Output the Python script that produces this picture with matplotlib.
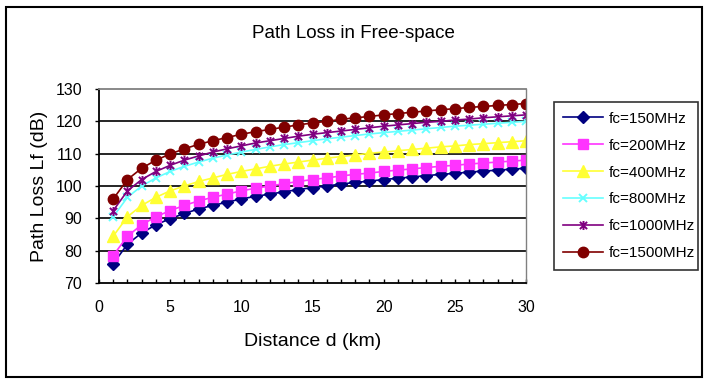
import matplotlib
matplotlib.use("Agg")
import matplotlib.pyplot as plt
from matplotlib.patches import Rectangle
from matplotlib.path import Path
from matplotlib.ticker import MultipleLocator

plt.rcParams['font.family'] = ['Liberation Sans', 'DejaVu Sans']

distance_km = list(range(1, 31))

loss_150 = [76.0, 82.0, 85.5, 88.0, 89.9, 91.5, 92.9, 94.0, 95.0, 96.0,
            96.8, 97.5, 98.2, 98.9, 99.5, 100.0, 100.6, 101.1, 101.5, 102.0,
            102.4, 102.8, 103.2, 103.6, 103.9, 104.3, 104.6, 104.9, 105.2, 105.5]
loss_200 = [78.5, 84.5, 88.0, 90.5, 92.4, 94.0, 95.4, 96.5, 97.5, 98.5,
            99.3, 100.0, 100.7, 101.4, 102.0, 102.5, 103.1, 103.6, 104.0, 104.5,
            104.9, 105.3, 105.7, 106.1, 106.4, 106.8, 107.1, 107.4, 107.7, 108.0]
loss_400 = [84.5, 90.5, 94.0, 96.5, 98.5, 100.0, 101.4, 102.5, 103.6, 104.5,
            105.3, 106.1, 106.8, 107.4, 108.0, 108.6, 109.1, 109.6, 110.1, 110.5,
            110.9, 111.3, 111.7, 112.1, 112.4, 112.8, 113.1, 113.4, 113.7, 114.0]
loss_800 = [90.5, 96.5, 100.0, 102.5, 104.5, 106.1, 107.4, 108.6, 109.6, 110.5,
            111.3, 112.1, 112.8, 113.4, 114.0, 114.6, 115.1, 115.6, 116.1, 116.5,
            116.9, 117.3, 117.7, 118.1, 118.5, 118.8, 119.1, 119.4, 119.7, 120.0]
loss_1000 = [92.4, 98.5, 102.0, 104.5, 106.4, 108.0, 109.3, 110.5, 111.5, 112.4,
             113.3, 114.0, 114.7, 115.4, 116.0, 116.5, 117.0, 117.5, 118.0, 118.5,
             118.9, 119.3, 119.7, 120.0, 120.4, 120.7, 121.1, 121.4, 121.7, 122.0]
loss_1500 = [96.0, 102.0, 105.5, 108.0, 109.9, 111.5, 112.9, 114.0, 115.0, 116.0,
             116.8, 117.5, 118.2, 118.9, 119.5, 120.0, 120.6, 121.1, 121.5, 122.0,
             122.4, 122.8, 123.2, 123.6, 123.9, 124.3, 124.6, 124.9, 125.2, 125.5]

series_labels = ["fc=150MHz", "fc=200MHz", "fc=400MHz", "fc=800MHz",
                 "fc=1000MHz", "fc=1500MHz"]
series_values = [loss_150, loss_200, loss_400, loss_800, loss_1000, loss_1500]

# Excel-style star marker: an X plus a vertical bar
star_path = Path([(-1, -1), (1, 1), (-1, 1), (1, -1), (0, -1.25), (0, 1.25)],
                 [Path.MOVETO, Path.LINETO, Path.MOVETO, Path.LINETO,
                  Path.MOVETO, Path.LINETO])

colors = ["#000080", "#FF33FF", "#FFFF33", "#66FFFF", "#800080", "#800000"]
markers = ["D", "s", "^", "x", star_path, "o"]
msizes = [6, 6.5, 8, 6, 6.5, 7.5]
mews = [1, 1, 1, 1.4, 1.4, 1]

fig = plt.figure(figsize=(7.11, 3.84), dpi=100)
ax = fig.add_axes([99/711, 1-283/384, (526-99)/711, (283-89)/384])

for vals, lab, c, m, ms, mw in zip(series_values, series_labels, colors, markers, msizes, mews):
    ax.plot(distance_km, vals, color=c, lw=1.2, marker=m, markersize=ms,
            markeredgewidth=mw, markerfacecolor=c, markeredgecolor=c, label=lab)

ax.set_xlim(0, 30)
ax.set_ylim(70, 130)
ax.xaxis.set_major_locator(MultipleLocator(5))
ax.xaxis.set_minor_locator(MultipleLocator(1))
ax.yaxis.set_major_locator(MultipleLocator(10))

for yv in range(80, 130, 10):
    ax.axhline(yv, color="black", lw=1.2, zorder=0.5)

ax.tick_params(axis='x', which='both', direction='in', length=3, width=1,
               pad=12, labelsize=11.5)
ax.tick_params(axis='y', which='both', direction='out', length=3, width=1,
               pad=9, labelsize=11.5)

ax.spines['left'].set_color('black')
ax.spines['bottom'].set_color('black')
ax.spines['left'].set_linewidth(1.3)
ax.spines['bottom'].set_linewidth(1.3)
ax.spines['top'].set_color('#808080')
ax.spines['right'].set_color('#808080')
ax.spines['top'].set_linewidth(1.3)
ax.spines['right'].set_linewidth(1.0)

ax.set_xlabel("Distance d (km)", fontsize=14)
ax.set_ylabel("Path Loss Lf (dB)", fontsize=14)
ax.xaxis.set_label_coords(0.5, (283-342)/194)
ax.xaxis.label.set_va('center')
ax.yaxis.set_label_coords((39-99)/427, 0.5)
ax.yaxis.label.set_va('center')

fig.text(353/711, 1-33/384, "Path Loss in Free-space", fontsize=13.5,
         ha='center', va='center')

leg = fig.legend(loc='center', bbox_to_anchor=(554/711, 1-273/384, (698-554)/711, (273-99)/384),
                 fontsize=11, frameon=True, fancybox=False, edgecolor='black',
                 handlelength=2.6, handletextpad=0.4, labelspacing=0.85,
                 borderpad=0.6, borderaxespad=0, mode='expand')
leg.get_frame().set_linewidth(1.2)

fig.patches.append(Rectangle((6/711, 1-377/384), (702-6)/711, (377-7)/384,
                             transform=fig.transFigure, fill=False,
                             edgecolor='black', lw=1.5))

fig.savefig("out.png", dpi=100)
